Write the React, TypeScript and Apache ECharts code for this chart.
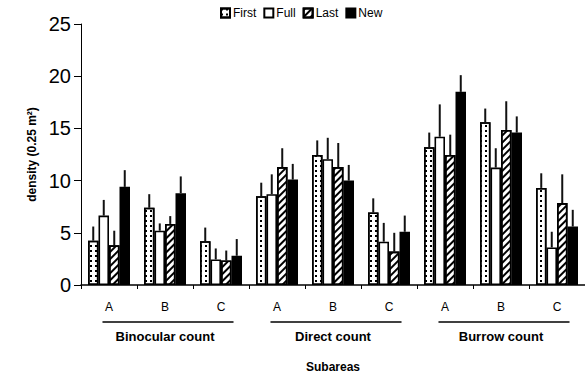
import React, { useEffect, useRef } from "react";
import * as echarts from "echarts";

const subareas = ["A", "B", "C"];
const methods = ["Binocular count", "Direct count", "Burrow count"];
const seriesNames = ["First", "Full", "Last", "New"];

const firstVals = [4.25, 7.4, 4.2, 8.5, 12.45, 6.95, 13.2, 15.6, 9.3];
const fullVals = [6.65, 5.2, 2.45, 8.7, 12.05, 4.15, 14.2, 11.25, 3.6];
const lastVals = [3.8, 5.85, 2.35, 11.3, 11.3, 3.2, 12.45, 14.85, 7.85];
const newVals = [9.4, 8.8, 2.8, 10.1, 10.0, 5.1, 18.5, 14.6, 5.6];

const firstErr = [1.35, 1.3, 1.3, 1.3, 1.4, 1.35, 1.4, 1.3, 1.4];
const fullErr = [1.5, 0.7, 1.05, 1.9, 2.05, 1.8, 3.1, 1.85, 1.5];
const lastErr = [1.4, 0.75, 0.95, 1.8, 2.3, 1.8, 1.95, 2.75, 2.75];
const newErr = [1.6, 1.6, 1.6, 1.5, 1.5, 1.55, 1.6, 1.55, 1.6];

const yMin = 0;
const yMax = 25;
const yInterval = 5;

const FONT = "'Liberation Sans', Arial, sans-serif";

export default function App() {
  const ref = useRef<HTMLDivElement>(null);

  useEffect(() => {
    if (!ref.current) return;
    const chart = echarts.init(ref.current, null, { renderer: "svg" });

    const categories: string[] = [];
    methods.forEach((m) => subareas.forEach((s) => categories.push(m + "|" + s)));

    const values = [firstVals, fullVals, lastVals, newVals];
    const errs = [firstErr, fullErr, lastErr, newErr];

    const decals: any[] = [
      {
        symbol: "rect",
        symbolSize: 1,
        dashArrayX: [1.5, 3],
        dashArrayY: [1.5, 3],
        color: "#000",
      },
      null,
      {
        symbol: "rect",
        symbolSize: 1,
        dashArrayX: [1, 0],
        dashArrayY: [2, 2.5],
        rotation: -Math.PI / 4,
        color: "#000",
      },
      null,
    ];
    const fills = ["#fff", "#fff", "#fff", "#000"];

    const barSeries = seriesNames.map((name, k) => ({
      name,
      type: "bar",
      xAxisIndex: 0,
      yAxisIndex: 0,
      barGap: "0%",
      barCategoryGap: "25%",
      data: values[k],
      itemStyle: {
        color: fills[k],
        borderColor: "#000",
        borderWidth: 1.6,
        ...(decals[k] ? { decal: decals[k] } : {}),
      },
      z: 2,
    }));

    const errSeries = seriesNames.map((name, k) => ({
      name: name + " error",
      type: "custom",
      xAxisIndex: 0,
      yAxisIndex: 0,
      silent: true,
      z: 1,
      encode: { x: 0, y: 1 },
      data: values[k].map((v, i) => [i, v, errs[k][i]]),
      renderItem: (params: any, api: any) => {
        const i = api.value(0);
        const v = api.value(1);
        const e = api.value(2);
        const base = api.coord([i, v]);
        const top = api.coord([i, v + e]);
        const w = api.size([1, 0])[0];
        const bw = (w * 0.75) / 4;
        const cx = base[0] + (k - 1.5) * bw;
        return {
          type: "line",
          shape: { x1: cx, y1: base[1], x2: cx, y2: top[1] },
          style: { stroke: "#111", lineWidth: 2 },
        };
      },
    }));

    const groupLineSeries = {
      name: "group lines",
      type: "custom",
      xAxisIndex: 1,
      yAxisIndex: 0,
      silent: true,
      clip: false,
      encode: { x: 0, y: 1 },
      data: methods.map((_, i) => [i, 0]),
      renderItem: (params: any, api: any) => {
        const c = api.coord([api.value(0), 0]);
        const w = api.size([1, 0])[0];
        const half = w * 0.39;
        const y = c[1] + 37;
        return {
          type: "line",
          shape: { x1: c[0] - half + 3, y1: y, x2: c[0] + half + 3, y2: y },
          style: { stroke: "#000", lineWidth: 1.3 },
        };
      },
    };

    chart.setOption({
      animation: false,
      textStyle: { fontFamily: FONT, color: "#000" },
      legend: {
        data: seriesNames,
        top: 7,
        left: 220,
        icon: "rect",
        itemWidth: 9,
        itemHeight: 9,
        itemGap: 7,
        padding: 0,
        textStyle: { fontFamily: FONT, fontSize: 12, color: "#000", padding: [0, 0, 0, -2] },
      },
      grid: { left: 81, right: 0, top: 24, bottom: 87, containLabel: false },
      xAxis: [
        {
          type: "category",
          data: categories,
          boundaryGap: true,
          axisLine: { show: true, lineStyle: { color: "#000", width: 1.5 } },
          axisTick: { show: true, length: 4, interval: 0, lineStyle: { color: "#000" } },
          axisLabel: {
            interval: 0,
            margin: 16,
            fontSize: 12,
            fontFamily: FONT,
            color: "#000",
            formatter: (v: string) => v.split("|")[1],
          },
          name: "Subareas",
          nameLocation: "middle",
          nameGap: 76,
          nameTextStyle: { fontFamily: FONT, fontSize: 12, fontWeight: "bold", color: "#000" },
          splitLine: { show: false },
        },
        {
          type: "category",
          data: methods,
          position: "bottom",
          boundaryGap: true,
          axisLine: { show: false },
          axisTick: { show: false },
          axisLabel: {
            interval: 0,
            margin: 45,
            fontSize: 13,
            fontWeight: "bold",
            fontFamily: FONT,
            color: "#000",
          },
          splitLine: { show: false },
        },
      ],
      yAxis: {
        type: "value",
        min: yMin,
        max: yMax,
        interval: yInterval,
        axisLine: { show: true, lineStyle: { color: "#000", width: 1 } },
        axisTick: { show: true, length: 7, lineStyle: { color: "#000" } },
        axisLabel: { fontSize: 20, fontFamily: FONT, color: "#000", margin: 10 },
        splitLine: { show: false },
        name: "density (0.25 m²)",
        nameLocation: "middle",
        nameGap: 42,
        nameTextStyle: { fontFamily: FONT, fontSize: 12, fontWeight: "bold", color: "#000" },
      },
      series: [...barSeries, ...errSeries, groupLineSeries],
    });

    return () => chart.dispose();
  }, []);

  return (
    <div
      ref={ref}
      style={{ position: "fixed", left: 0, top: 0, width: 585, height: 378, background: "#fff" }}
    />
  );
}
